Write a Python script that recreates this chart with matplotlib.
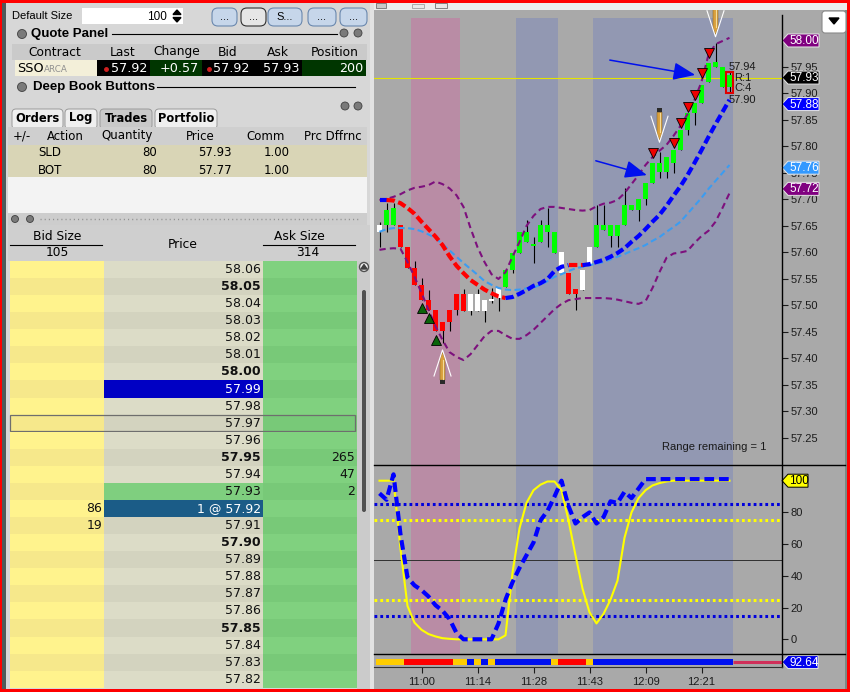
import matplotlib
matplotlib.use("Agg")
import matplotlib.pyplot as plt
from matplotlib.patches import Rectangle, Polygon, FancyBboxPatch, Circle

plt.rcParams['font.family'] = ['Liberation Sans', 'DejaVu Sans']
plt.rcParams['lines.scale_dashes'] = False

W, H = 850, 692
VERD = 'DejaVu Sans'

# ---------------- range bars, SSO ----------------
opens = [57.639, 57.652, 57.652, 57.652, 57.611, 57.570, 57.539, 57.510, 57.492, 57.469,
         57.492, 57.522, 57.522, 57.490, 57.490, 57.490, 57.508, 57.514, 57.535, 57.567,
         57.599, 57.620, 57.612, 57.620, 57.639, 57.599, 57.561, 57.561, 57.531, 57.529,
         57.576, 57.610, 57.642, 57.631, 57.631, 57.652, 57.680, 57.680, 57.701, 57.731,
         57.752, 57.752, 57.769, 57.793, 57.831, 57.863, 57.882, 57.922, 57.950, 57.912,
         57.912]
closes = [57.652, 57.680, 57.684, 57.611, 57.570, 57.539, 57.510, 57.492, 57.451, 57.451,
          57.469, 57.492, 57.490, 57.522, 57.522, 57.510, 57.512, 57.533, 57.567, 57.599,
          57.639, 57.639, 57.616, 57.652, 57.652, 57.639, 57.601, 57.522, 57.522, 57.567,
          57.610, 57.652, 57.652, 57.652, 57.652, 57.690, 57.690, 57.701, 57.731, 57.769,
          57.769, 57.780, 57.793, 57.831, 57.863, 57.882, 57.916, 57.958, 57.959, 57.950,
          57.935]
highs = [57.658, 57.693, 57.693, 57.652, 57.611, 57.583, 57.552, 57.529, 57.492, 57.469,
         57.492, 57.522, 57.531, 57.522, 57.531, 57.510, 57.533, 57.533, 57.567, 57.599,
         57.639, 57.661, 57.630, 57.661, 57.684, 57.639, 57.601, 57.561, 57.531, 57.567,
         57.610, 57.690, 57.690, 57.652, 57.652, 57.722, 57.690, 57.701, 57.731, 57.769,
         57.790, 57.780, 57.793, 57.831, 57.863, 57.882, 57.916, 57.958, 57.995, 57.950,
         57.940]
lows = [57.611, 57.639, 57.652, 57.611, 57.570, 57.539, 57.510, 57.492, 57.451, 57.429,
        57.451, 57.482, 57.490, 57.482, 57.490, 57.469, 57.505, 57.490, 57.535, 57.561,
        57.599, 57.620, 57.581, 57.620, 57.610, 57.599, 57.561, 57.522, 57.492, 57.529,
        57.576, 57.610, 57.642, 57.610, 57.610, 57.652, 57.680, 57.659, 57.690, 57.731,
        57.741, 57.741, 57.750, 57.793, 57.822, 57.841, 57.882, 57.922, 57.950, 57.912,
        57.900]
bar_colors = "wgg" + "rrrrrrrrrr" + "wwwww" + "gggggggg" + "w" + "rr" + "ww" + "gggggggggggggggggggg"

trend_ma = [57.699, 57.699, 57.698, 57.693, 57.684, 57.673, 57.658, 57.644, 57.630, 57.614,
            57.593, 57.575, 57.561, 57.548, 57.539, 57.530, 57.523, 57.517, 57.514, 57.516,
            57.522, 57.529, 57.537, 57.542, 57.550, 57.565, 57.573, 57.576, 57.576, 57.576,
            57.578, 57.582, 57.586, 57.592, 57.599, 57.608, 57.620, 57.631, 57.644, 57.658,
            57.671, 57.688, 57.707, 57.725, 57.746, 57.769, 57.793, 57.818, 57.842, 57.865,
            57.888]
trend_colors = "b" + "r" * 17 + "b" * 9 + "rr" + "b" * 22
slow_ma = [57.639, 57.644, 57.646, 57.646, 57.646, 57.644, 57.640, 57.634, 57.627, 57.616,
           57.604, 57.592, 57.580, 57.569, 57.558, 57.546, 57.539, 57.533, 57.530, 57.529,
           57.530, 57.532, 57.534, 57.539, 57.546, 57.554, 57.559, 57.565, 57.570, 57.573,
           57.576, 57.579, 57.582, 57.587, 57.592, 57.597, 57.603, 57.608, 57.614, 57.622,
           57.629, 57.639, 57.648, 57.658, 57.673, 57.688, 57.703, 57.720, 57.735, 57.750,
           57.765]
band_upper = [57.699, 57.701, 57.705, 57.710, 57.717, 57.722, 57.724, 57.727, 57.734, 57.729,
              57.721, 57.708, 57.686, 57.646, 57.610, 57.582, 57.559, 57.550, 57.563, 57.592,
              57.620, 57.650, 57.669, 57.682, 57.686, 57.686, 57.684, 57.682, 57.680, 57.679,
              57.680, 57.687, 57.692, 57.694, 57.699, 57.712, 57.729, 57.746, 57.765, 57.780,
              57.792, 57.803, 57.820, 57.839, 57.861, 57.888, 57.922, 57.973, 57.993, 57.999,
              58.005]
band_lower = [57.605, 57.607, 57.608, 57.607, 57.582, 57.554, 57.524, 57.492, 57.461, 57.435,
              57.412, 57.403, 57.397, 57.408, 57.425, 57.442, 57.452, 57.452, 57.444, 57.437,
              57.437, 57.444, 57.454, 57.467, 57.480, 57.493, 57.503, 57.510, 57.512, 57.514,
              57.514, 57.514, 57.514, 57.513, 57.511, 57.508, 57.505, 57.503, 57.508, 57.533,
              57.563, 57.590, 57.598, 57.600, 57.603, 57.618, 57.631, 57.641, 57.658, 57.684,
              57.712]

sell_idx = [39, 42, 43, 44, 45, 46, 47]
sell_px = [57.788, 57.807, 57.845, 57.875, 57.897, 57.939, 57.976]
buy_idx = [6, 7, 8]
buy_px = [57.496, 57.477, 57.435]
pencil_sell = [(40, 57.808), (48, 58.007)]
pencil_buy = [(9, 57.416)]
arrow_tails = [(32.9, 57.963), (30.9, 57.773)]
arrow_heads = [(45.1, 57.935), (38.2, 57.746)]
pink_zone = (4.5, 11.5)
blue_zones = [(19.5, 25.5), (30.5, 50.5)]
price_ticks = [57.25, 57.30, 57.35, 57.40, 57.45, 57.50, 57.55, 57.60, 57.65, 57.70,
               57.75, 57.80, 57.85, 57.90, 57.95]
last_price = 57.93
price_tags = [(58.00, '#800080', 'white'), (57.93, '#000000', 'white'),
              (57.88, '#0000ff', 'white'), (57.76, '#3399ff', 'white'),
              (57.72, '#800080', 'white')]

# stochastic panel
stoch_k = [100, 100, 100, 57, 21, 10.5, 6, 3.3, 1.8, 0.7, 0.3, 0, 0, 0, 0, 0, 0, 0, 2.5,
           42, 70, 86, 94, 97.5, 99.5, 99.5, 94, 75, 53, 32, 17, 10, 16, 25, 37, 64, 80,
           89, 94, 97, 98.5, 99.5, 100, 100, 100, 100, 100, 100, 100, 100, 100]
stoch_d = [92, 88, 104, 66, 39, 34, 31, 27, 21.5, 18, 12.8, 4, 0, 0, 0, 0, 0, 10, 25, 36,
           45, 53, 61, 75, 81, 90, 100, 84, 73, 77, 80, 73, 77, 87, 86, 93, 89, 95, 101,
           101, 101, 101, 101, 101, 101, 101, 101, 101, 101, 101, 101]
osc_ticks = [0, 20, 40, 60, 80]
strip_colors = "yyyy" + "rrrrrrr" + "yy" + "b" + "y" + "b" + "y" + "bbbbbbbb" + "y" + "rrrr" + "y" + "b" * 20
strip_value = "92.64"
time_pos = [6, 14, 22, 30, 38, 46]
time_labels = ['11:00', '11:14', '11:28', '11:43', '12:09', '12:21']

# ---------------- depth ladder ----------------
ladder_prices = ['58.06', '58.05', '58.04', '58.03', '58.02', '58.01', '58.00', '57.99',
                 '57.98', '57.97', '57.96', '57.95', '57.94', '57.93', '57.92', '57.91',
                 '57.90', '57.89', '57.88', '57.87', '57.86', '57.85', '57.84', '57.83', '57.82']
bold_prices = ['58.05', '58.00', '57.95', '57.90', '57.85']
bid_book = {'57.92': '86', '57.91': '19'}
ask_book = {'57.95': '265', '57.94': '47', '57.93': '2'}
quote_head = ['Contract', 'Last', 'Change', 'Bid', 'Ask', 'Position']
quote_vals = ['57.92', '+0.57', '57.92', '57.93', '200']
trade_head = ['+/-', 'Action', 'Quantity', 'Price', 'Comm', 'Prc Dffrnc']
trades = [('SLD', '80', '57.93', '1.00'), ('BOT', '80', '57.77', '1.00')]

fig = plt.figure(figsize=(W / 100, H / 100), dpi=100, facecolor='#d7d7d7')
ui = fig.add_axes([0, 0, 1, 1], zorder=0)
ui.set_xlim(0, W); ui.set_ylim(H, 0); ui.axis('off')


def rect(a, x0, y0, x1, y1, fc, ec='none', lw=0, **kw):
    p = Rectangle((x0, y0), x1 - x0, y1 - y0, fc=fc, ec=ec, lw=lw, **kw)
    a.add_patch(p)
    return p


def px_axes(x0, y0, x1, y1, z=1):
    return fig.add_axes([x0 / W, 1 - y1 / H, (x1 - x0) / W, (y1 - y0) / H], zorder=z)


def icon(a, x, y, r=4.5):
    a.add_patch(Circle((x, y), r, fc='#7a7a7a', ec='#404040', lw=0.6))


# ---- left panel ----
rect(ui, 2, 0, 6.5, H, '#4e5a5a')
ui.text(12, 16, 'Default Size', fontsize=8, va='center')
rect(ui, 82, 8, 183, 24, 'white')
ui.text(167, 16.5, '100', fontsize=8.5, va='center', ha='right')
ui.add_patch(Polygon([(173, 14.5), (181, 14.5), (177, 10)], color='black'))
ui.add_patch(Polygon([(173, 17.5), (181, 17.5), (177, 22)], color='black'))
for x0, x1, lab, fc, ec in [(212, 237, '...', '#c6d6ea', '#6a88ae'), (241, 266, '...', '#e6e6e6', '#303030'),
                            (268, 302, 'S...', '#c6d6ea', '#6a88ae'), (308, 336, '...', '#c6d6ea', '#6a88ae'),
                            (340, 367, '...', '#c6d6ea', '#6a88ae')]:
    ui.add_patch(FancyBboxPatch((x0, 8), x1 - x0, 18, boxstyle='round,pad=0,rounding_size=6',
                                fc=fc, ec=ec, lw=0.8))
    ui.text((x0 + x1) / 2, 17, lab, fontsize=8, ha='center', va='center')

icon(ui, 22, 34)
ui.text(31, 34, 'Quote Panel', fontsize=9.5, fontweight='bold', va='center')
ui.plot([112, 337], [34, 34], color='black', lw=0.8)
icon(ui, 344, 33, 4); icon(ui, 358, 33, 4)
rect(ui, 12, 44, 367, 60, '#cacaca')
for xc, s in zip([55, 123, 177, 228, 278, 335], quote_head):
    ui.text(xc, 52, s, fontsize=8.8, family=VERD, ha='center', va='center')
rect(ui, 15, 60, 97, 76, '#f3efd9')
ui.text(17, 68, 'SSO', fontsize=9.2, family=VERD, va='center')
ui.text(44, 69, 'ARCA', fontsize=6.3, family=VERD, va='center', color='#909090')
for x0, x1, fc in [(97, 150, 'black'), (150, 202, '#003600'), (202, 302, 'black'), (302, 366, '#003600')]:
    rect(ui, x0, 60, x1, 76, fc)
for xr, s in zip([147, 199, 249, 300, 363], quote_vals):
    ui.text(xr, 68, s, fontsize=9.2, family=VERD, ha='right', va='center', color='white')
ui.plot([106, 209], [68.5, 68.5], 'o', ms=2.5, color='#d02020', lw=0)
icon(ui, 22, 87)
ui.text(33, 87, 'Deep Book Buttons', fontsize=9.5, fontweight='bold', va='center')
ui.plot([157, 355], [87, 87], color='black', lw=0.8)
icon(ui, 345, 106, 4); icon(ui, 358, 106, 4)

for x0, x1, lab, fc in [(12, 63, 'Orders', '#efefef'), (65, 97, 'Log', '#efefef'),
                        (100, 152, 'Trades', '#c9c9c9'), (155, 217, 'Portfolio', '#efefef')]:
    ui.add_patch(FancyBboxPatch((x0, 109), x1 - x0, 20, boxstyle='round,pad=0,rounding_size=4',
                                fc=fc, ec='#9a9a9a', lw=0.7))
    ui.text((x0 + x1) / 2, 118, lab, fontsize=8.3, family=VERD, fontweight='bold', ha='center', va='center')
rect(ui, 8, 127, 367, 145, '#cfcfcf')
for xc, s in zip([22, 65, 127, 200, 266, 333], trade_head):
    ui.text(xc, 136, s, fontsize=8.5, family=VERD, ha='center', va='center')
rect(ui, 8, 145, 367, 177, '#d9d5b6')
rect(ui, 8, 177, 367, 213, '#f3f3f3')
for k, (act, qty, prc, comm) in enumerate(trades):
    yy = 153 + k * 17
    ui.text(38, yy, act, fontsize=8.5, family=VERD, va='center')
    ui.text(157, yy, qty, fontsize=8.5, family=VERD, va='center', ha='right')
    ui.text(232, yy, prc, fontsize=8.5, family=VERD, va='center', ha='right')
    ui.text(290, yy, comm, fontsize=8.5, family=VERD, va='center', ha='right')
rect(ui, 8, 213, 367, 225, '#cdcdcd')
icon(ui, 15, 219, 3.5); icon(ui, 30, 219, 3.5)
ui.plot([40, 360], [219, 219], color='#909090', lw=1, dashes=(0.8, 2.2))
rect(ui, 8, 225, 370, 261, '#cfcfcf')
ui.text(57, 236, 'Bid Size', fontsize=8.8, family=VERD, ha='center', va='center')
ui.plot([10, 102], [244.5, 244.5], color='black', lw=0.8)
ui.text(57, 253, '105', fontsize=8.8, family=VERD, ha='center', va='center')
ui.text(183, 244, 'Price', fontsize=8.8, family=VERD, ha='center', va='center')
ui.text(299, 236, 'Ask Size', fontsize=8.8, family=VERD, ha='center', va='center')
ui.plot([263, 355], [244.5, 244.5], color='black', lw=0.8)
ui.text(308, 253, '314', fontsize=8.8, family=VERD, ha='center', va='center')

row_h = 17.07
for k, p in enumerate(ladder_prices):
    y0 = 261 + k * row_h
    alt = k % 2
    price_fc = ('#dcdcc7', '#d3d3bf')[alt]
    tcol = '#111111'
    label = p
    if p == '57.99':
        price_fc, tcol = '#0000c4', 'white'
    elif p == '57.93':
        price_fc = '#7fcf7f'
    elif p == '57.92':
        price_fc, tcol, label = '#1b5c87', 'white', '1 @ ' + p
    rect(ui, 10, y0, 104, y0 + row_h, ('#fff38d', '#f6e88b')[alt])
    rect(ui, 104, y0, 263, y0 + row_h, price_fc)
    rect(ui, 263, y0, 357, y0 + row_h, ('#80d17f', '#78c978')[alt])
    yc = y0 + row_h / 2
    ui.text(261, yc, label, fontsize=9, family=VERD, ha='right', va='center', color=tcol,
            fontweight='bold' if p in bold_prices else 'normal')
    if p in bid_book:
        ui.text(102, yc, bid_book[p], fontsize=9, family=VERD, ha='right', va='center', color='#111111')
    if p in ask_book:
        ui.text(355, yc, ask_book[p], fontsize=9, family=VERD, ha='right', va='center', color='#111111')
    if p == '57.97':
        rect(ui, 10.5, y0 + 0.5, 355, y0 + row_h - 0.5, 'none', ec='#6e6e6e', lw=0.9)
rect(ui, 357, 261, 370, H, '#cbcbcb')
ui.add_patch(Circle((364, 267), 4.5, fc='#f0f0f0', ec='#505050', lw=1))
ui.add_patch(Polygon([(361, 269), (367, 269), (364, 264.5)], color='#404040'))
ui.add_patch(FancyBboxPatch((362, 290), 4, 222, boxstyle='round,pad=0,rounding_size=2',
                            fc='#505050', ec='none'))

# ---- chart frame ----
rect(ui, 370, 2, 374, H, '#e2e2e2')
rect(ui, 374, 2, 847, 10, '#ececec')
rect(ui, 376, 3, 386, 8, '#c8c8c8', ec='#707070', lw=0.6)
rect(ui, 412, 4, 424, 8, '#e8e8e8', ec='#a0a0a0', lw=0.6)
rect(ui, 435, 3, 447, 8, '#e8e8e8', ec='#707070', lw=0.6)
rect(ui, 374, 10, 847, H, '#a9a9a9')

CHART_BG = '#a9a9a9'
PINK, BLUE_Z = '#b98ca5', '#9298b2'
x = list(range(len(opens)))
xlim = (-0.786, 57.5)

ax = px_axes(374, 10, 782, 465)
ax.set_facecolor(CHART_BG)
ax.set_xlim(*xlim)
ax.set_ylim(57.199, 58.0575)
for s in ax.spines.values():
    s.set_visible(False)
ax.set_xticks([])
ax.yaxis.tick_right()
ax.set_yticks(price_ticks)
ax.set_yticklabels(['%.2f' % v for v in price_ticks])
ax.tick_params(axis='y', length=4, width=0.8, pad=2, labelsize=8, colors='#1c1c1c')
band_top = (465 - 18) / (465 - 10)
ax.axvspan(*pink_zone, ymax=band_top, color=PINK, lw=0, zorder=0)
for z in blue_zones:
    ax.axvspan(*z, ymax=band_top, color=BLUE_Z, lw=0, zorder=0)
ax.axhline(last_price, color='#e4e400', lw=0.8, zorder=1)

cmap = {'g': '#00ff00', 'r': '#ff0000', 'w': '#ffffff'}
ax.vlines(x, lows, highs, color='black', lw=0.8, zorder=2)
bottoms = [min(o, c) for o, c in zip(opens, closes)]
heights = [max(abs(c - o), 0.004) for o, c in zip(opens, closes)]
ax.bar(x, heights, bottom=bottoms, width=0.72, color=[cmap[c] for c in bar_colors], lw=0, zorder=3)

ax.plot(x, band_upper, color='#7d107d', lw=1.5, dashes=(4.5, 3), zorder=4)
ax.plot(x, band_lower, color='#7d107d', lw=1.5, dashes=(4.5, 3), zorder=4)
ax.plot(x, slow_ma, color='#3c9cf0', lw=1.5, dashes=(4.5, 2.5), zorder=4)
start = 0
for k in range(1, len(x)):
    if k == len(x) - 1 or trend_colors[k] != trend_colors[start]:
        end = k
        ax.plot(x[start:end + 1], trend_ma[start:end + 1],
                color='#ff0000' if trend_colors[start] == 'r' else '#0000ff',
                lw=3, dashes=(6, 2.6), zorder=5)
        start = k

ax.plot(sell_idx, sell_px, 'v', ms=7.5, mfc='#ee0000', mec='black', mew=0.6, zorder=6)
ax.plot(buy_idx, buy_px, '^', ms=7, mfc='#0a640a', mec='black', mew=0.6, zorder=6)
for (tx, ty), (hx, hy) in zip(arrow_tails, arrow_heads):
    ax.annotate('', xy=(hx, hy), xytext=(tx, ty),
                arrowprops=dict(arrowstyle='-|>,head_length=0.42,head_width=0.17',
                                color='#0010ee', lw=1.1, mutation_scale=32, shrinkA=0, shrinkB=0),
                zorder=6)
# current bar box and its labels
cur = len(x) - 1
ax.add_patch(Rectangle((cur - 0.55, lows[cur]), 1.1, highs[cur] - lows[cur], fill=False,
                       ec='#e00000', lw=1.5, zorder=6))
ax.annotate('%.2f' % highs[cur], xy=(cur, highs[cur]), xytext=(-1, 5), textcoords='offset pixels',
            fontsize=8, ha='left', va='center', color='#1a1a1a')
ax.annotate('R:1', xy=(cur, highs[cur]), xytext=(5, -6), textcoords='offset pixels',
            fontsize=8, ha='left', va='center', color='#1a1a1a')
ax.annotate('C:4', xy=(cur, highs[cur]), xytext=(5, -16), textcoords='offset pixels',
            fontsize=8, ha='left', va='center', color='#1a1a1a')
ax.annotate('%.2f' % lows[cur], xy=(cur, lows[cur]), xytext=(-1, -7), textcoords='offset pixels',
            fontsize=8, ha='left', va='center', color='#1a1a1a')
ax.text(0.706, 0.033, 'Range remaining = 1', transform=ax.transAxes, fontsize=8, color='#1a1a1a')

ind = px_axes(374, 465, 782, 654)
ind.set_facecolor(CHART_BG)
ind.set_xlim(*xlim)
ind.set_ylim(-9.27, 109.9)
for s in ind.spines.values():
    s.set_visible(False)
ind.set_xticks([])
ind.yaxis.tick_right()
ind.set_yticks(osc_ticks)
ind.tick_params(axis='y', length=4, width=0.8, pad=2, labelsize=8, colors='#1c1c1c')
ind.axvspan(*pink_zone, color=PINK, lw=0, zorder=0)
for z in blue_zones:
    ind.axvspan(*z, color=BLUE_Z, lw=0, zorder=0)
ind.axhline(50, color='#303030', lw=0.7, zorder=1)
for lvl, col in [(85, '#0000dd'), (15, '#0000dd'), (75, '#ffff00'), (25, '#ffff00')]:
    ind.axhline(lvl, color=col, lw=2.2, dashes=(2, 2.2), zorder=2)
ind.plot(x, stoch_k, color='#ffff00', lw=1.5, zorder=3)
ind.plot(x, stoch_d, color='#0000ff', lw=3, dashes=(7, 3.5), zorder=4)

strip = px_axes(374, 654, 782, 667)
strip.set_facecolor(CHART_BG)
strip.set_xlim(*xlim)
strip.set_ylim(0, 1)
for s in strip.spines.values():
    s.set_visible(False)
strip.set_yticks([])
scol = {'y': '#ffcc00', 'r': '#ff0000', 'b': '#0010f0'}
strip.bar(x, 0.45, bottom=0.15, width=1.0, color=[scol[c] for c in strip_colors], lw=0)
strip.plot([cur + 0.5, xlim[1]], [0.38, 0.38], color='#d0305a', lw=2.2, solid_capstyle='butt')
strip.set_xticks(time_pos)
strip.set_xticklabels(time_labels)
strip.tick_params(axis='x', length=4, width=0.8, pad=3, labelsize=8, colors='#1c1c1c')

# ---- overlay: separators, tags, markers drawn above the panels ----
over = fig.add_axes([0, 0, 1, 1], zorder=5)
over.set_xlim(0, W); over.set_ylim(H, 0); over.axis('off')
over.patch.set_alpha(0)
over.plot([782, 782], [15, 667], color='black', lw=1)
over.plot([374, 845], [465, 465], color='black', lw=1)
over.plot([374, 845], [654, 654], color='black', lw=1)
over.plot([374, 782], [667, 667], color='#303030', lw=0.8)
rect(over, 845, 10, 847, H, '#7a8a84')
over.add_patch(FancyBboxPatch((822, 11), 24, 22, boxstyle='round,pad=0,rounding_size=3',
                              fc='white', ec='#8a8a8a', lw=0.8))
over.add_patch(Polygon([(829, 18), (839, 18), (834, 24)], color='black'))


def to_over(axis, xv, yv):
    dx, dy = axis.transData.transform((xv, yv))
    return dx, H - dy


def tag(axis, value, label, fc, tc, width=37, ec='#e8e8e8'):
    x0, y0 = to_over(axis, axis.get_xlim()[1], value)
    over.add_patch(Polygon([(x0, y0), (x0 + 6, y0 - 6.5), (x0 + width, y0 - 6.5),
                            (x0 + width, y0 + 6.5), (x0 + 6, y0 + 6.5)],
                           closed=True, fc=fc, ec=ec, lw=0.7))
    over.text(x0 + 4 + width / 2, y0 + 0.5, label, color=tc, fontsize=8.5, ha='center', va='center')


for v, fc, tc in price_tags:
    tag(ax, v, '%.2f' % v, fc, tc)
tag(ind, 100, '100', '#ffff00', 'black', width=26, ec='black')
tag(strip, 0.38, strip_value, '#0000ee', 'white', width=36)

# pencils are clipped to the price panel like in the platform
clip = Rectangle((374, 10), 408, 455, transform=over.transData)


def pencil(i, p, sell=True):
    X, Y = to_over(ax, i, p)
    s = -1 if sell else 1
    arts = over.plot([X - 8.5, X, X + 8.5], [Y + s * 26, Y, Y + s * 26], color='white', lw=0.8)
    arts.append(over.add_patch(Polygon([(X, Y + s * 2), (X - 2.5, Y + s * 9), (X - 2.5, Y + s * 30),
                                        (X + 2.5, Y + s * 30), (X + 2.5, Y + s * 9)],
                                       fc='#d9a03c', ec='#8a6a30', lw=0.4)))
    arts += over.plot([X, X], [Y + s * 10, Y + s * 29], color='#f5dc9a', lw=0.8)
    arts.append(rect(over, X - 2.5, min(Y + s * 30, Y + s * 34), X + 2.5, max(Y + s * 30, Y + s * 34),
                     '#2a2a2a'))
    for a in arts:
        a.set_clip_path(clip)


for i, p in pencil_sell:
    pencil(i, p, True)
for i, p in pencil_buy:
    pencil(i, p, False)

# window highlight border
rect(over, 0, 0, W, 2.5, '#ff0000')
rect(over, 0, H - 3, W, H, '#ff0000')
rect(over, 0, 0, 2.2, H, '#ff0000')
rect(over, W - 2.5, 0, W, H, '#ff0000')

fig.savefig('out.png', dpi=100, facecolor=fig.get_facecolor())
